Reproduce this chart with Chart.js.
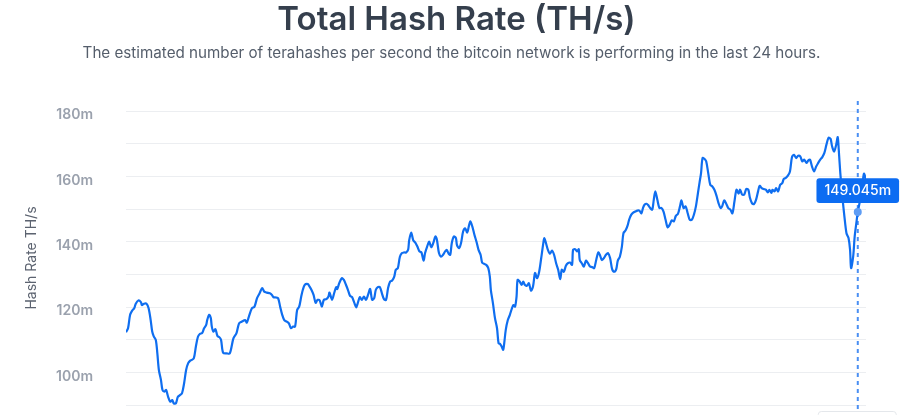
<!DOCTYPE html>
<html>
<head>
    <title>Total Hash Rate (TH/s)</title>
    <script src="https://cdn.jsdelivr.net/npm/chart.js"></script>
    <style>
        body { margin: 0; background: #fff; overflow: hidden; font-family: Inter, sans-serif; }
        #title { position: absolute; top: 2px; left: 0; width: 913px; text-align: center;
                 font: 600 33px/1 Inter, sans-serif; color: #353f4d; z-index: 2; }
        #sub { position: absolute; top: 44px; left: 0; width: 903px; text-align: center;
               font: 400 15.2px/1.2 Inter, sans-serif; color: #555e6b; z-index: 2; }
        #wrap { position: absolute; top: 0; left: 0; width: 913px; height: 440px; }
    </style>
</head>
<body>
    <div id="title">Total Hash Rate (TH/s)</div>
    <div id="sub">The estimated number of terahashes per second the bitcoin network is performing in the last 24 hours.</div>
    <div id="wrap"><canvas id="hashChart" width="913" height="440"></canvas></div>

    <script>
        // minutes since start of the 24h window
        const minutes = [
            0,4,8,12,16,19,24,29,31,35,40,44,48,51,54,58,61,64,68,71,75,78,82,86,90,93,97,101,105,109,113,117,121,125,128,132,136,140,144,148,152,156,158,162,165,167,170,174,178,182,185,189,196,202,
            209,215,220,225,232,235,239,245,250,255,260,265,269,274,280,284,287,292,296,300,304,308,313,317,321,325,329,333,337,341,344,348,354,357,361,365,369,373,377,381,385,390,394,396,
            401,405,409,411,415,420,424,428,432,436,440,444,448,451,455,459,463,467,471,475,479,483,486,490,494,498,502,506,510,514,518,522,525,529,533,537,541,545,549,551,555,559,563,567,571,575,579,582,586,590,594,598,602,
            605,609,613,617,621,624,628,631,634,638,642,644,648,652,656,660,664,667,670,674,678,682,686,690,693,697,701,705,708,710,714,718,722,725,728,731,734,736,739,743,747,751,754,757,760,762,766,770,773,776,780,784,788,792,796,800,804,808,812,814,
            817,821,825,829,833,837,841,845,848,852,856,860,864,868,870,874,878,881,883,887,891,895,899,903,907,911,915,919,922,926,930,934,938,942,946,950,954,957,961,965,968,972,976,979,983,987,991,995,999,1003,1006,1009,1013,1016,1020,
            1024,1027,1030,1034,1038,1042,1046,1050,1054,1058,1062,1066,1070,1074,1078,1081,1085,1089,1093,1097,1101,1105,1109,1113,1116,1119,1122,1126,1129,1133,1137,1141,1145,1149,1153,1157,1160,1164,1168,1172,1176,1180,1184,1188,1192,1195,1199,1203,1207,1211,
            1214,1218,1222,1226,1230,1233,1237,1241,1245,1249,1252,1256,1258,1262,1265,1269,1273,1277,1280,1284,1288,1292,1296,1300,1304,1308,1312,1316,1320,1324,1328,1331,1335,1339,1343,1347,1351,1355,1359,1363,1367,1371,1374,1378,1382,1385,1387,1390,1394,1398,1402,1406,1409,1411,1415,1418,1422,1424,1428,1432,1436,1440
        ];

        // hash rate in millions of TH/s
        const hashRate = [
            112.3,113.5,117.6,118.9,119.6,121,122,121.5,120.6,121,121,119.6,116,112.5,111,109.9,105.8,100.7,97.7,94.6,94.1,94.6,92.5,91,91.5,90.5,90.5,92.5,93,93.6,96.6,100.7,102.8,103.6,103.8,104.3,107.9,110.9,111.8,112,113.5,114.5,116,117.6,116.6,114,112.5,113.2,111.1,110.7,109.9,106,105.8,105.8,
            110.4,112,115,115.5,116,115.2,117,119.6,120.1,122.7,124.2,125.8,124.7,124.4,124.2,123.7,123,122.9,122.7,120.1,117.6,116,115.5,115,113.5,114,114,119.1,120.1,123.2,125.2,126.8,127,126.3,125.2,123.7,121.3,122.2,122,120.1,122.2,122.4,123.2,124.4,
            122.2,124.2,126.1,125.5,127.3,128.8,128.3,126.8,125.2,123.4,123,121.4,119.9,121.2,123,122.2,123.2,122.2,123.7,125.5,122.2,122.7,125.2,126.1,126.1,124.2,122.4,122.2,125.8,127.8,128.1,129.3,131.4,131.9,135.4,136.5,136.7,136.7,137.5,140.4,142.8,140.4,139.7,138.5,137,136.7,134.2,136.5,138.5,140,138.3,139.6,141.6,
            140.6,136.5,135.4,136,137,137.5,136.3,136,139.6,141.6,141.1,139,138,139.6,143.1,144.1,142.8,144.6,146.2,144.6,142.1,140,137.5,136,133.6,133.2,132.9,131.9,129.3,125.2,121.2,116.6,113.5,108.9,108.7,107.9,106.9,108.9,113,116,117.6,119.6,120.6,120.1,123.2,128.3,127.8,126.8,127.8,126.8,126.5,127.3,125,126.3,130.4,128.8,130.8,135,139.5,141.1,
            139.7,137.5,136.3,137.3,136,133.4,131.4,128.5,131.4,130.8,132.6,133.4,133.6,132.9,137.5,137.7,137,137.7,134.4,133.4,132.4,134.2,133.4,132.4,132.2,131.9,134.4,136.7,136,134.4,135,136,136.5,135,131.6,130.8,131.6,134.2,135.4,138.5,142.6,143.4,144.9,146.7,148.2,148.9,149.2,149.5,149.5,148.7,150.3,151.3,151.6,151.2,150.3,
            149.8,152.8,155.4,152.8,150.3,150.3,149.2,146.7,144.4,145.2,146.5,146.2,147.9,148.5,150.8,152.6,150.3,150.8,148.7,146.7,146.7,148.2,150.8,154.9,158,161,165.6,165.3,164.6,161,157.4,156.9,155.9,154.1,151.8,150.3,150.8,152.6,151.6,150.3,149.8,148.7,152.3,155.9,154.7,155.9,154.4,154.4,156.1,155.9,
            153.5,151.8,151.5,152.8,155.4,157.1,156.4,156.1,155.9,155.1,155.9,154.9,155.9,155.4,156.4,155.4,157.4,157.9,159.2,159.5,160.2,161.5,165.9,166.6,165.6,166.3,166.1,164.6,165.1,164.1,164.9,165.1,163,161.5,163,164.1,165.1,165.9,167.2,169.7,171.8,171.5,169.2,167.6,169.7,172,168.1,161,153.8,147.7,142.6,141.1,137.5,131.9,135.4,141.6,146.7,149.045,152.3,155.9,160.8,159
        ];

        const yTicks = [90, 100, 110, 120, 130, 140, 150, 160, 170, 180];
        const hoverMinute = 1424;

        const points = minutes.map((m, i) => ({ x: m, y: hashRate[i] }));
        const hoverIndex = minutes.indexOf(hoverMinute);

        // dashed crosshair + x label stub at the hovered point
        const crosshair = {
            id: 'crosshair',
            beforeDatasetsDraw(chart) {
                const act = chart.getActiveElements();
                if (!act.length) return;
                const x = act[0].element.x;
                const ctx = chart.ctx;
                ctx.save();
                ctx.strokeStyle = '#4a8ff3';
                ctx.lineWidth = 2;
                ctx.setLineDash([4, 4]);
                ctx.beginPath();
                ctx.moveTo(x, chart.chartArea.top - 10);
                ctx.lineTo(x, chart.height);
                ctx.stroke();
                ctx.restore();
            },
            afterDraw(chart) {
                const act = chart.getActiveElements();
                if (!act.length) return;
                const x = act[0].element.x;
                const ctx = chart.ctx;
                ctx.save();
                ctx.fillStyle = '#fff';
                ctx.strokeStyle = '#e4e7eb';
                ctx.lineWidth = 1;
                ctx.beginPath();
                ctx.roundRect(x - 39.5, chart.chartArea.bottom + 6.5, 78, 24, 3);
                ctx.fill();
                ctx.stroke();
                ctx.restore();
            }
        };

        const ctx = document.getElementById('hashChart').getContext('2d');
        const chart = new Chart(ctx, {
            type: 'line',
            data: {
                datasets: [{
                    label: 'Hash Rate',
                    data: points,
                    borderColor: '#0f6ef0',
                    borderWidth: 2.2,
                    pointRadius: 0,
                    pointHoverRadius: 4,
                    pointHoverBorderWidth: 0,
                    pointHoverBackgroundColor: '#5d9cf4',
                    tension: 0.3,
                    fill: false
                }]
            },
            options: {
                responsive: false,
                animation: false,
                events: [],
                layout: { padding: { top: 111, right: 47, bottom: 35, left: 0 } },
                plugins: {
                    legend: { display: false },
                    tooltip: {
                        enabled: true,
                        backgroundColor: '#0c6cf2',
                        displayColors: false,
                        yAlign: 'bottom',
                        xAlign: 'center',
                        caretSize: 0,
                        caretPadding: 9,
                        cornerRadius: 3,
                        padding: { x: 8, y: 4 },
                        bodyFont: { family: 'Inter', size: 14, weight: 500 },
                        bodyColor: '#fff',
                        callbacks: {
                            title: () => '',
                            label: (c) => c.parsed.y.toFixed(3) + 'm'
                        }
                    }
                },
                scales: {
                    x: { type: 'linear', min: 0, max: 1440, display: false },
                    y: {
                        min: yTicks[0],
                        max: yTicks[yTicks.length - 1],
                        afterBuildTicks: (s) => { s.ticks = yTicks.map(v => ({ value: v })); },
                        afterFit: (s) => { s.width = 126; s.paddingTop = 0; s.paddingBottom = 0; },
                        border: { display: false },
                        grid: { color: '#eceef1', drawTicks: false },
                        ticks: {
                            padding: 33,
                            labelOffset: 4,
                            color: '#9aa1ad',
                            font: { family: 'Inter', size: 14, weight: 600 },
                            callback: (v) => (v % 20 === 0 ? v + 'm' : '')
                        },
                        title: {
                            display: true,
                            text: 'Hash Rate TH/s',
                            color: '#5c6370',
                            padding: { top: 23, bottom: 0 },
                            font: { family: 'Inter', size: 14, weight: 400 }
                        }
                    }
                }
            },
            plugins: [crosshair]
        });

        const active = [{ datasetIndex: 0, index: hoverIndex }];
        chart.setActiveElements(active);
        chart.tooltip.setActiveElements(active, { x: 0, y: 0 });
        chart.update();
    </script>
</body>
</html>
